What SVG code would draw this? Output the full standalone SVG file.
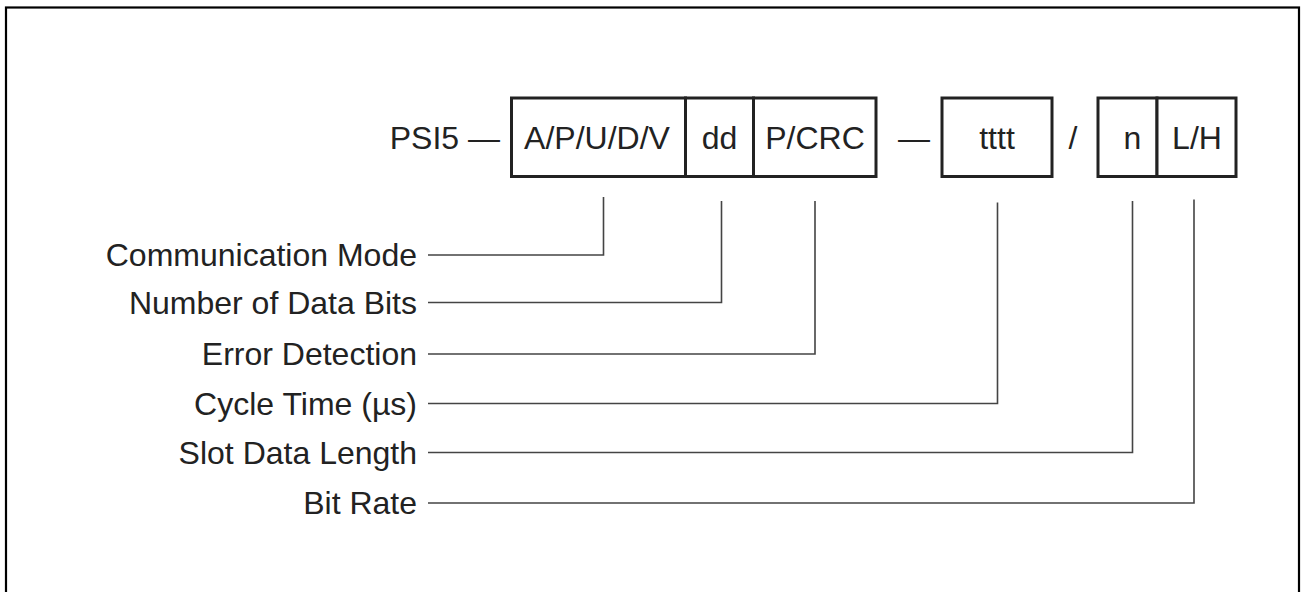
<svg xmlns="http://www.w3.org/2000/svg" width="1301" height="592" viewBox="0 0 1301 592">
<style>
text{font-family:"Liberation Sans",Arial,sans-serif;font-size:32px;fill:#222}
.box{fill:#fff;stroke:#222;stroke-width:3}
.lead{fill:none;stroke:#444;stroke-width:1.6}
.lbl{text-anchor:end}
.mid{text-anchor:middle}
</style>
<rect x="6" y="7.5" width="1293" height="620" fill="#fff" stroke="#000" stroke-width="2.2"/>
<g id="prefix"><text x="500" y="149" class="lbl">PSI5 —</text></g>
<g id="field-mode"><rect class="box" x="511.5" y="98" width="174" height="78.5"/><text x="597" y="149" class="mid">A/P/U/D/V</text></g>
<g id="field-dd"><rect class="box" x="685.5" y="98" width="68" height="78.5"/><text x="719.5" y="149" class="mid">dd</text></g>
<g id="field-crc"><rect class="box" x="753.5" y="98" width="122.5" height="78.5"/><text x="815" y="149" class="mid">P/CRC</text></g>
<g id="sep1"><text x="914" y="149" class="mid">—</text></g>
<g id="field-tttt"><rect class="box" x="942" y="98" width="110" height="78.5"/><text x="997" y="149" class="mid">tttt</text></g>
<g id="sep2"><text x="1073" y="149" class="mid">/</text></g>
<g id="field-n"><rect class="box" x="1098" y="98" width="59" height="78.5"/><text x="1132.5" y="149" class="mid">n</text></g>
<g id="field-lh"><rect class="box" x="1157" y="98" width="79" height="78.5"/><text x="1197" y="149" class="mid">L/H</text></g>
<g id="labels">
<text x="417" y="266" class="lbl">Communication Mode</text>
<text x="417" y="314" class="lbl">Number of Data Bits</text>
<text x="417" y="365" class="lbl">Error Detection</text>
<text x="417" y="415" class="lbl">Cycle Time (µs)</text>
<text x="417" y="464" class="lbl">Slot Data Length</text>
<text x="417" y="514" class="lbl">Bit Rate</text>
</g>
<g id="connectors">
<polyline class="lead" points="428,255 603.5,255 603.5,197"/>
<polyline class="lead" points="428,302.5 721.5,302.5 721.5,201"/>
<polyline class="lead" points="428,354 815,354 815,201"/>
<polyline class="lead" points="428,403.5 997.5,403.5 997.5,202.5"/>
<polyline class="lead" points="428,452.5 1132.5,452.5 1132.5,201"/>
<polyline class="lead" points="428,503 1194,503 1194,199.5"/>
</g>
</svg>
